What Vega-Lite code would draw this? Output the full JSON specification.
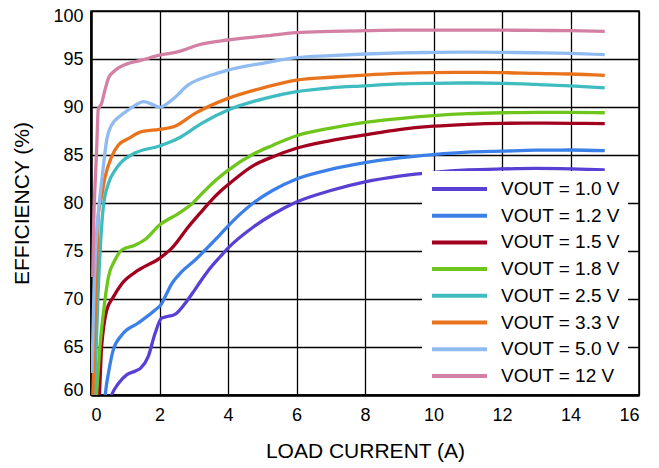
{
  "$schema": "https://vega.github.io/schema/vega-lite/v6.json",
  "width": 548,
  "height": 384,
  "autosize": {"type": "none"},
  "padding": {"left": 91, "top": 11, "right": 20, "bottom": 73},
  "background": "white",
  "config": {
    "font": "Liberation Sans",
    "view": {"stroke": "black", "strokeWidth": 1.5},
    "axis": {"labelFont": "Liberation Sans", "titleFont": "Liberation Sans", "labelColor": "black", "titleColor": "black", "titleFontWeight": "normal", "grid": true, "gridColor": "black", "gridWidth": 1.3, "gridOpacity": 1, "domainColor": "black", "domainWidth": 2.5, "ticks": false, "tickSize": 0}
  },
  "data": {"values": [
    {"v":"VOUT = 1.0 V","i":0.55,"e":59.5},{"v":"VOUT = 1.0 V","i":0.6,"e":60},{"v":"VOUT = 1.0 V","i":0.8,"e":61.2},{"v":"VOUT = 1.0 V","i":1.04,"e":62.1},{"v":"VOUT = 1.0 V","i":1.3,"e":62.5},{"v":"VOUT = 1.0 V","i":1.45,"e":62.8},{"v":"VOUT = 1.0 V","i":1.67,"e":64.0},{"v":"VOUT = 1.0 V","i":1.87,"e":66.4},{"v":"VOUT = 1.0 V","i":2.06,"e":68.0},{"v":"VOUT = 1.0 V","i":2.25,"e":68.2},{"v":"VOUT = 1.0 V","i":2.45,"e":68.4},{"v":"VOUT = 1.0 V","i":2.74,"e":69.5},{"v":"VOUT = 1.0 V","i":3.0,"e":70.8},{"v":"VOUT = 1.0 V","i":3.23,"e":72.0},{"v":"VOUT = 1.0 V","i":3.5,"e":73.3},{"v":"VOUT = 1.0 V","i":3.77,"e":74.4},{"v":"VOUT = 1.0 V","i":4.0,"e":75.3},{"v":"VOUT = 1.0 V","i":4.74,"e":77.5},{"v":"VOUT = 1.0 V","i":5.3,"e":78.8},{"v":"VOUT = 1.0 V","i":6.0,"e":80.1},{"v":"VOUT = 1.0 V","i":7.0,"e":81.3},{"v":"VOUT = 1.0 V","i":8.0,"e":82.2},{"v":"VOUT = 1.0 V","i":9.0,"e":82.8},{"v":"VOUT = 1.0 V","i":10,"e":83.2},{"v":"VOUT = 1.0 V","i":11,"e":83.45},{"v":"VOUT = 1.0 V","i":12,"e":83.55},{"v":"VOUT = 1.0 V","i":13,"e":83.6},{"v":"VOUT = 1.0 V","i":14,"e":83.55},{"v":"VOUT = 1.0 V","i":15,"e":83.45},
    {"v":"VOUT = 1.2 V","i":0.4,"e":59.5},{"v":"VOUT = 1.2 V","i":0.45,"e":61},{"v":"VOUT = 1.2 V","i":0.51,"e":62.3},{"v":"VOUT = 1.2 V","i":0.65,"e":64.7},{"v":"VOUT = 1.2 V","i":0.9,"e":66.25},{"v":"VOUT = 1.2 V","i":1.38,"e":67.5},{"v":"VOUT = 1.2 V","i":1.87,"e":68.85},{"v":"VOUT = 1.2 V","i":2.06,"e":69.5},{"v":"VOUT = 1.2 V","i":2.2,"e":70.5},{"v":"VOUT = 1.2 V","i":2.36,"e":71.6},{"v":"VOUT = 1.2 V","i":2.65,"e":72.85},{"v":"VOUT = 1.2 V","i":3.04,"e":74.06},{"v":"VOUT = 1.2 V","i":3.43,"e":75.45},{"v":"VOUT = 1.2 V","i":3.77,"e":76.7},{"v":"VOUT = 1.2 V","i":4.0,"e":77.6},{"v":"VOUT = 1.2 V","i":4.74,"e":80.0},{"v":"VOUT = 1.2 V","i":5.3,"e":81.3},{"v":"VOUT = 1.2 V","i":6.0,"e":82.5},{"v":"VOUT = 1.2 V","i":7.0,"e":83.5},{"v":"VOUT = 1.2 V","i":8.0,"e":84.2},{"v":"VOUT = 1.2 V","i":9.0,"e":84.7},{"v":"VOUT = 1.2 V","i":10,"e":85.05},{"v":"VOUT = 1.2 V","i":11,"e":85.3},{"v":"VOUT = 1.2 V","i":12,"e":85.4},{"v":"VOUT = 1.2 V","i":13,"e":85.5},{"v":"VOUT = 1.2 V","i":14,"e":85.52},{"v":"VOUT = 1.2 V","i":15,"e":85.45},
    {"v":"VOUT = 1.5 V","i":0.24,"e":59.5},{"v":"VOUT = 1.5 V","i":0.27,"e":62},{"v":"VOUT = 1.5 V","i":0.3,"e":64.5},{"v":"VOUT = 1.5 V","i":0.35,"e":66.5},{"v":"VOUT = 1.5 V","i":0.46,"e":68.85},{"v":"VOUT = 1.5 V","i":0.65,"e":70.2},{"v":"VOUT = 1.5 V","i":0.9,"e":71.6},{"v":"VOUT = 1.5 V","i":1.38,"e":73.0},{"v":"VOUT = 1.5 V","i":2.0,"e":74.24},{"v":"VOUT = 1.5 V","i":2.36,"e":75.3},{"v":"VOUT = 1.5 V","i":2.84,"e":77.5},{"v":"VOUT = 1.5 V","i":3.2,"e":79.0},{"v":"VOUT = 1.5 V","i":3.52,"e":80.3},{"v":"VOUT = 1.5 V","i":3.77,"e":81.2},{"v":"VOUT = 1.5 V","i":4.0,"e":81.9},{"v":"VOUT = 1.5 V","i":4.74,"e":83.9},{"v":"VOUT = 1.5 V","i":5.3,"e":84.8},{"v":"VOUT = 1.5 V","i":6.0,"e":85.7},{"v":"VOUT = 1.5 V","i":7.0,"e":86.5},{"v":"VOUT = 1.5 V","i":8.0,"e":87.1},{"v":"VOUT = 1.5 V","i":9.0,"e":87.65},{"v":"VOUT = 1.5 V","i":10,"e":88.0},{"v":"VOUT = 1.5 V","i":11,"e":88.2},{"v":"VOUT = 1.5 V","i":12,"e":88.3},{"v":"VOUT = 1.5 V","i":13,"e":88.32},{"v":"VOUT = 1.5 V","i":14,"e":88.3},{"v":"VOUT = 1.5 V","i":15,"e":88.27},
    {"v":"VOUT = 1.8 V","i":0.15,"e":59.5},{"v":"VOUT = 1.8 V","i":0.2,"e":62},{"v":"VOUT = 1.8 V","i":0.26,"e":65.0},{"v":"VOUT = 1.8 V","i":0.36,"e":68.5},{"v":"VOUT = 1.8 V","i":0.51,"e":72.3},{"v":"VOUT = 1.8 V","i":0.7,"e":74.06},{"v":"VOUT = 1.8 V","i":0.9,"e":75.1},{"v":"VOUT = 1.8 V","i":1.28,"e":75.6},{"v":"VOUT = 1.8 V","i":1.58,"e":76.2},{"v":"VOUT = 1.8 V","i":2.0,"e":77.7},{"v":"VOUT = 1.8 V","i":2.55,"e":78.9},{"v":"VOUT = 1.8 V","i":2.94,"e":79.9},{"v":"VOUT = 1.8 V","i":3.3,"e":81.2},{"v":"VOUT = 1.8 V","i":3.65,"e":82.4},{"v":"VOUT = 1.8 V","i":4.0,"e":83.4},{"v":"VOUT = 1.8 V","i":4.74,"e":85.1},{"v":"VOUT = 1.8 V","i":5.3,"e":86.0},{"v":"VOUT = 1.8 V","i":6.0,"e":87.0},{"v":"VOUT = 1.8 V","i":7.0,"e":87.8},{"v":"VOUT = 1.8 V","i":8.0,"e":88.4},{"v":"VOUT = 1.8 V","i":9.0,"e":88.8},{"v":"VOUT = 1.8 V","i":10,"e":89.1},{"v":"VOUT = 1.8 V","i":11,"e":89.3},{"v":"VOUT = 1.8 V","i":12,"e":89.4},{"v":"VOUT = 1.8 V","i":13,"e":89.45},{"v":"VOUT = 1.8 V","i":14,"e":89.45},{"v":"VOUT = 1.8 V","i":15,"e":89.4},
    {"v":"VOUT = 2.5 V","i":0.1,"e":59.5},{"v":"VOUT = 2.5 V","i":0.2,"e":70},{"v":"VOUT = 2.5 V","i":0.3,"e":77},{"v":"VOUT = 2.5 V","i":0.36,"e":79.6},{"v":"VOUT = 2.5 V","i":0.51,"e":82.05},{"v":"VOUT = 2.5 V","i":0.7,"e":83.4},{"v":"VOUT = 2.5 V","i":0.9,"e":84.3},{"v":"VOUT = 2.5 V","i":1.28,"e":85.2},{"v":"VOUT = 2.5 V","i":2.0,"e":85.94},{"v":"VOUT = 2.5 V","i":2.55,"e":86.74},{"v":"VOUT = 2.5 V","i":3.23,"e":88.3},{"v":"VOUT = 2.5 V","i":4.0,"e":89.69},{"v":"VOUT = 2.5 V","i":5.08,"e":90.9},{"v":"VOUT = 2.5 V","i":6.0,"e":91.6},{"v":"VOUT = 2.5 V","i":7.0,"e":92.0},{"v":"VOUT = 2.5 V","i":8.0,"e":92.2},{"v":"VOUT = 2.5 V","i":9.0,"e":92.4},{"v":"VOUT = 2.5 V","i":10,"e":92.47},{"v":"VOUT = 2.5 V","i":11,"e":92.5},{"v":"VOUT = 2.5 V","i":12,"e":92.47},{"v":"VOUT = 2.5 V","i":13,"e":92.35},{"v":"VOUT = 2.5 V","i":14,"e":92.2},{"v":"VOUT = 2.5 V","i":15,"e":92.0},
    {"v":"VOUT = 3.3 V","i":0.05,"e":59.5},{"v":"VOUT = 3.3 V","i":0.12,"e":68},{"v":"VOUT = 3.3 V","i":0.18,"e":75},{"v":"VOUT = 3.3 V","i":0.22,"e":79},{"v":"VOUT = 3.3 V","i":0.31,"e":80.7},{"v":"VOUT = 3.3 V","i":0.41,"e":82.7},{"v":"VOUT = 3.3 V","i":0.6,"e":84.8},{"v":"VOUT = 3.3 V","i":0.8,"e":86.04},{"v":"VOUT = 3.3 V","i":1.09,"e":86.7},{"v":"VOUT = 3.3 V","i":1.48,"e":87.43},{"v":"VOUT = 3.3 V","i":2.0,"e":87.67},{"v":"VOUT = 3.3 V","i":2.45,"e":88.0},{"v":"VOUT = 3.3 V","i":3.04,"e":89.34},{"v":"VOUT = 3.3 V","i":4.0,"e":90.9},{"v":"VOUT = 3.3 V","i":5.08,"e":92.05},{"v":"VOUT = 3.3 V","i":6.0,"e":92.8},{"v":"VOUT = 3.3 V","i":7.0,"e":93.1},{"v":"VOUT = 3.3 V","i":8.0,"e":93.33},{"v":"VOUT = 3.3 V","i":9.0,"e":93.5},{"v":"VOUT = 3.3 V","i":10,"e":93.58},{"v":"VOUT = 3.3 V","i":11,"e":93.6},{"v":"VOUT = 3.3 V","i":12,"e":93.58},{"v":"VOUT = 3.3 V","i":13,"e":93.5},{"v":"VOUT = 3.3 V","i":14,"e":93.44},{"v":"VOUT = 3.3 V","i":15,"e":93.3},
    {"v":"VOUT = 5.0 V","i":0.03,"e":62.3},{"v":"VOUT = 5.0 V","i":0.08,"e":70},{"v":"VOUT = 5.0 V","i":0.15,"e":76},{"v":"VOUT = 5.0 V","i":0.26,"e":80.6},{"v":"VOUT = 5.0 V","i":0.36,"e":83.8},{"v":"VOUT = 5.0 V","i":0.46,"e":86.6},{"v":"VOUT = 5.0 V","i":0.6,"e":88.1},{"v":"VOUT = 5.0 V","i":0.85,"e":89.06},{"v":"VOUT = 5.0 V","i":1.09,"e":89.7},{"v":"VOUT = 5.0 V","i":1.3,"e":90.2},{"v":"VOUT = 5.0 V","i":1.53,"e":90.55},{"v":"VOUT = 5.0 V","i":1.77,"e":90.3},{"v":"VOUT = 5.0 V","i":2.0,"e":89.97},{"v":"VOUT = 5.0 V","i":2.36,"e":90.73},{"v":"VOUT = 5.0 V","i":2.84,"e":92.3},{"v":"VOUT = 5.0 V","i":3.52,"e":93.33},{"v":"VOUT = 5.0 V","i":4.0,"e":93.85},{"v":"VOUT = 5.0 V","i":5.08,"e":94.6},{"v":"VOUT = 5.0 V","i":6.0,"e":95.14},{"v":"VOUT = 5.0 V","i":7.0,"e":95.35},{"v":"VOUT = 5.0 V","i":8.0,"e":95.52},{"v":"VOUT = 5.0 V","i":9.0,"e":95.63},{"v":"VOUT = 5.0 V","i":10,"e":95.69},{"v":"VOUT = 5.0 V","i":11,"e":95.72},{"v":"VOUT = 5.0 V","i":12,"e":95.69},{"v":"VOUT = 5.0 V","i":13,"e":95.65},{"v":"VOUT = 5.0 V","i":14,"e":95.59},{"v":"VOUT = 5.0 V","i":15,"e":95.45},
    {"v":"VOUT = 12 V","i":0.05,"e":72.3},{"v":"VOUT = 12 V","i":0.08,"e":78},{"v":"VOUT = 12 V","i":0.12,"e":82},{"v":"VOUT = 12 V","i":0.17,"e":86},{"v":"VOUT = 12 V","i":0.21,"e":89.7},{"v":"VOUT = 12 V","i":0.31,"e":90.4},{"v":"VOUT = 12 V","i":0.41,"e":91.8},{"v":"VOUT = 12 V","i":0.51,"e":93.0},{"v":"VOUT = 12 V","i":0.7,"e":93.8},{"v":"VOUT = 12 V","i":0.99,"e":94.4},{"v":"VOUT = 12 V","i":1.5,"e":94.9},{"v":"VOUT = 12 V","i":2.0,"e":95.4},{"v":"VOUT = 12 V","i":2.55,"e":95.76},{"v":"VOUT = 12 V","i":3.13,"e":96.46},{"v":"VOUT = 12 V","i":4.0,"e":96.98},{"v":"VOUT = 12 V","i":5.08,"e":97.4},{"v":"VOUT = 12 V","i":6.0,"e":97.74},{"v":"VOUT = 12 V","i":7.0,"e":97.87},{"v":"VOUT = 12 V","i":8.0,"e":97.95},{"v":"VOUT = 12 V","i":9.0,"e":98.0},{"v":"VOUT = 12 V","i":10,"e":98.0},{"v":"VOUT = 12 V","i":11,"e":98.0},{"v":"VOUT = 12 V","i":12,"e":98.0},{"v":"VOUT = 12 V","i":13,"e":97.98},{"v":"VOUT = 12 V","i":14,"e":97.95},{"v":"VOUT = 12 V","i":15,"e":97.88}
  ]},
  "mark": {"type": "line", "strokeWidth": 3.3, "interpolate": "monotone", "clip": true},
  "encoding": {
    "x": {"field": "i", "type": "quantitative", "scale": {"domain": [0, 16], "nice": false},
      "axis": {"title": "LOAD CURRENT (A)", "values": [0, 2, 4, 6, 8, 10, 12, 14, 16], "labelFontSize": 18, "titleFontSize": 21, "labelPadding": 11, "titlePadding": 16}},
    "y": {"field": "e", "type": "quantitative", "scale": {"domain": [60, 100], "nice": false, "zero": false},
      "axis": {"title": "EFFICIENCY (%)", "values": [60, 65, 70, 75, 80, 85, 90, 95, 100], "labelFontSize": 18, "titleFontSize": 21, "labelPadding": 8, "titlePadding": 20, "labelFlush": true, "labelFlushOffset": 4}},
    "color": {"field": "v", "type": "nominal",
      "scale": {"domain": ["VOUT = 1.0 V", "VOUT = 1.2 V", "VOUT = 1.5 V", "VOUT = 1.8 V", "VOUT = 2.5 V", "VOUT = 3.3 V", "VOUT = 5.0 V", "VOUT = 12 V"],
        "range": ["#5a3fd4", "#3a80e8", "#a1001e", "#6ec61c", "#3fbcbf", "#e8731c", "#90bbf0", "#d480a5"]},
      "legend": {"title": null, "orient": "none", "legendX": 331, "legendY": 160, "fillColor": "white", "padding": 8, "symbolType": "stroke", "symbolSize": 3025, "symbolStrokeWidth": 4, "labelFontSize": 19, "labelFont": "Liberation Sans", "labelColor": "black", "labelOffset": 12, "clipHeight": 20, "rowPadding": 6.7, "labelLimit": 300}
    }
  }
}
